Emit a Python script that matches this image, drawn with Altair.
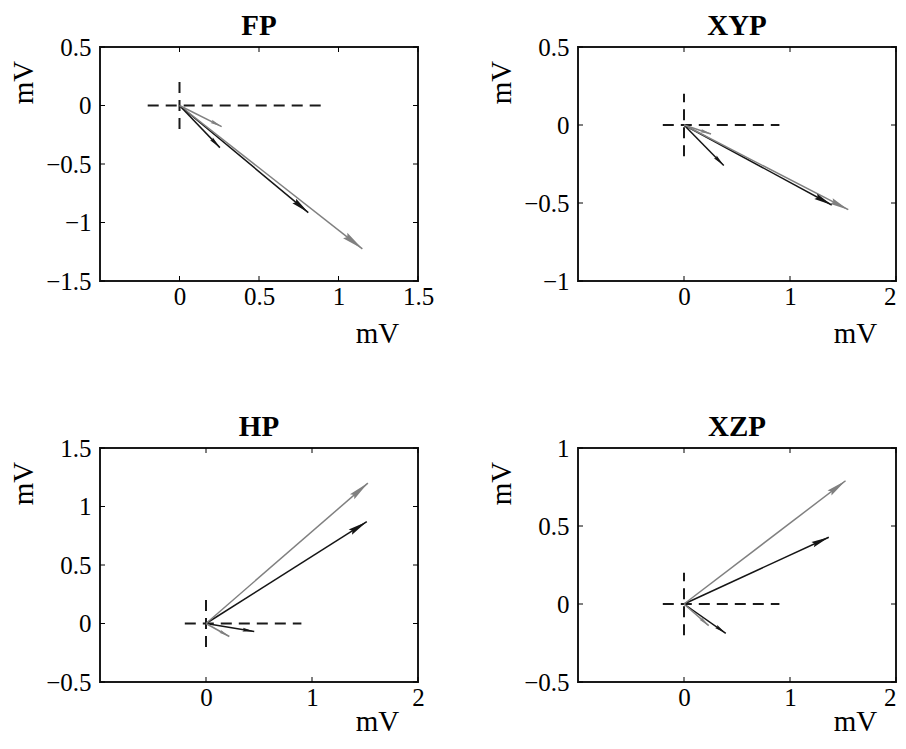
import math
import altair as alt
import pandas as pd

# ---------------- data ----------------
panel_names = ["FP", "XYP", "HP", "XZP"]
# arrow order: black long, gray long, black short, gray short
arrow_kind = ["black", "gray", "black", "gray"]

FP_tip_x = [0.81, 1.15, 0.254, 0.265]
FP_tip_y = [-0.915, -1.225, -0.36, -0.18]
XYP_tip_x = [1.394, 1.55, 0.375, 0.255]
XYP_tip_y = [-0.513, -0.543, -0.26, -0.058]
HP_tip_x = [1.517, 1.527, 0.455, 0.22]
HP_tip_y = [0.87, 1.2, -0.069, -0.111]
XZP_tip_x = [1.366, 1.524, 0.394, 0.233]
XZP_tip_y = [0.428, 0.79, -0.188, -0.139]

FP_x_domain = [-0.5, 1.5]
FP_y_domain = [-1.5, 0.5]
XYP_x_domain = [-1, 2]
XYP_y_domain = [-1, 0.5]
HP_x_domain = [-1, 2]
HP_y_domain = [-0.5, 1.5]
XZP_x_domain = [-1, 2]
XZP_y_domain = [-0.5, 1]

FP_x_ticks = [0, 0.5, 1, 1.5]
FP_y_ticks = [-1.5, -1, -0.5, 0, 0.5]
XYP_x_ticks = [0, 1, 2]
XYP_y_ticks = [-1, -0.5, 0, 0.5]
HP_x_ticks = [0, 1, 2]
HP_y_ticks = [-0.5, 0, 0.5, 1, 1.5]
XZP_x_ticks = [0, 1, 2]
XZP_y_ticks = [-0.5, 0, 0.5, 1]

cross_h = [-0.2, 0.9]   # dashed horizontal reference line (x range at y=0)
cross_v = [-0.2, 0.2]   # dashed vertical reference line (y range at x=0)

axis_unit = "mV"

# ---------------- styling ----------------
W, H = 318, 234
FONT = "Liberation Serif"
COLOR_DOMAIN = ["black", "gray"]
COLOR_RANGE = ["#151515", "#808080"]
HEAD_PATH = "M0,0L0.32,2L0,1.75L-0.32,2Z"
TICK_LEN = 5


def make_panel(name, tx, ty, xd, yd, xt, yt, right_col, xtitle_y):
    sx = W / (xd[1] - xd[0])
    sy = H / (yd[1] - yd[0])
    rows = []
    for x, y, k in zip(tx, ty, arrow_kind):
        L = math.hypot(x * sx, y * sy)
        ang = math.degrees(math.atan2(x * sx, y * sy)) % 360
        head = 9 + 0.055 * L
        rows.append(dict(x0=0.0, y0=0.0, x=x, y=y, kind=k, angle=ang, size=head * head))
    arrows = pd.DataFrame(rows)

    xscale = alt.Scale(domain=xd, nice=False, zero=False)
    yscale = alt.Scale(domain=yd, nice=False, zero=False)
    x_label_align = "center"
    if right_col:
        x_label_align = {"condition": {"test": f"datum.value >= {xd[1]}", "value": "right"},
                         "value": "center"}
    xaxis = alt.Axis(values=xt, format=".1~f", labelFont=FONT, labelFontSize=25,
                     labelColor="black", ticks=False, domain=False, grid=False,
                     labelPadding=3, labelFlush=False, labelOverlap=False,
                     labelAlign=x_label_align,
                     titleFont=FONT, titleFontSize=29, titleFontWeight="normal",
                     titleColor="black", titleX=277, titleY=xtitle_y,
                     titleAlign="center", titleBaseline="alphabetic")
    yaxis = alt.Axis(values=yt, format=".1~f", labelFont=FONT, labelFontSize=25,
                     labelColor="black", ticks=False, domain=False, grid=False,
                     labelPadding=9, labelFlush=False, labelOverlap=False,
                     titleFont=FONT, titleFontSize=29, titleFontWeight="normal",
                     titleColor="black", titleX=-77, titleY=35, titleAngle=270,
                     titleAlign="center", titleBaseline="middle")

    def X(f):
        return alt.X(f, type="quantitative", scale=xscale, axis=xaxis, title=axis_unit)

    def Y(f):
        return alt.Y(f, type="quantitative", scale=yscale, axis=yaxis, title=axis_unit)

    color = alt.Color("kind:N", scale=alt.Scale(domain=COLOR_DOMAIN, range=COLOR_RANGE), legend=None)

    hline = alt.Chart(pd.DataFrame({"x": [cross_h[0]], "x2": [cross_h[1]], "y": [0.0]})).mark_rule(
        color="#1a1a1a", strokeWidth=2, strokeDash=[11, 7]
    ).encode(x=X("x"), x2="x2:Q", y=Y("y"))
    vline = alt.Chart(pd.DataFrame({"x": [0.0], "y": [cross_v[0]], "y2": [cross_v[1]]})).mark_rule(
        color="#1a1a1a", strokeWidth=2, strokeDash=[11, 7]
    ).encode(x=X("x"), y=Y("y"), y2="y2:Q")

    shafts = alt.Chart(arrows).mark_rule(strokeWidth=1.5).encode(
        x=X("x0"), x2="x:Q", y=Y("y0"), y2="y:Q", color=color
    )
    heads = alt.Chart(arrows).mark_point(shape=HEAD_PATH, filled=True, opacity=1, strokeWidth=0).encode(
        x=X("x"), y=Y("y"), color=color,
        angle=alt.Angle("angle:Q", scale=None),
        size=alt.Size("size:Q", scale=None),
    )

    xt_df = pd.DataFrame({"x": xt})
    yt_df = pd.DataFrame({"y": yt})
    tick_style = dict(color="black", strokeWidth=1)
    xt_top = alt.Chart(xt_df).mark_rule(**tick_style).encode(
        x=X("x"), y=alt.value(0), y2=alt.value(TICK_LEN))
    xt_bot = alt.Chart(xt_df).mark_rule(**tick_style).encode(
        x=X("x"), y=alt.value(H - TICK_LEN), y2=alt.value(H))
    yt_left = alt.Chart(yt_df).mark_rule(**tick_style).encode(
        y=Y("y"), x=alt.value(0), x2=alt.value(TICK_LEN))
    yt_right = alt.Chart(yt_df).mark_rule(**tick_style).encode(
        y=Y("y"), x=alt.value(W - TICK_LEN), x2=alt.value(W))

    return alt.layer(xt_top, xt_bot, yt_left, yt_right, hline, vline, shafts, heads).properties(
        width=W, height=H,
        title=alt.TitleParams(name, font=FONT, fontSize=29, fontWeight="bold", color="black",
                              anchor="middle", frame="group", offset=-6),
    )


p_fp = make_panel("FP", FP_tip_x, FP_tip_y, FP_x_domain, FP_y_domain, FP_x_ticks, FP_y_ticks, False, 61)
p_xyp = make_panel("XYP", XYP_tip_x, XYP_tip_y, XYP_x_domain, XYP_y_domain, XYP_x_ticks, XYP_y_ticks, True, 61)
p_hp = make_panel("HP", HP_tip_x, HP_tip_y, HP_x_domain, HP_y_domain, HP_x_ticks, HP_y_ticks, False, 48)
p_xzp = make_panel("XZP", XZP_tip_x, XZP_tip_y, XZP_x_domain, XZP_y_domain, XZP_x_ticks, XZP_y_ticks, True, 48)

chart = alt.concat(
    p_fp, p_xyp, p_hp, p_xzp,
    columns=2,
    spacing={"row": 167, "column": 160},
    bounds="flush",
).properties(
    padding={"left": 0, "top": 3, "right": 0, "bottom": 0},
).configure_view(
    stroke="#1a1a1a", strokeWidth=2
)

chart.save("out.html", embed_options={"renderer": "svg", "actions": False})
